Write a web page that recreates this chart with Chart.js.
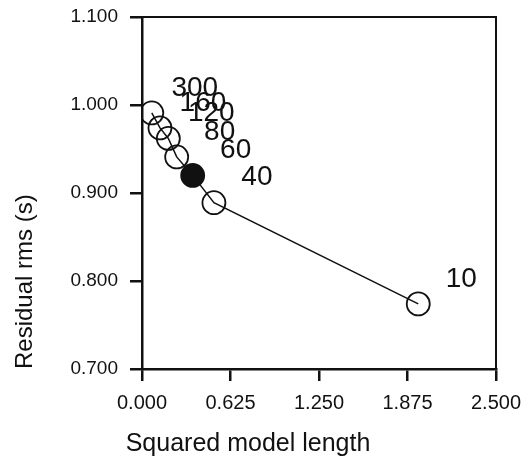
<!DOCTYPE html>
<html>
<head>
<meta charset="utf-8">
<script src="https://cdn.jsdelivr.net/npm/chart.js@4/dist/chart.umd.min.js"></script>
<style>
  html, body { margin: 0; padding: 0; background: #fff; }
  canvas { display: block; }
</style>
</head>
<body>
<canvas id="c" width="525" height="460"></canvas>
<script>
// ---- data ----
const pointLabels = ['300', '160', '120', '80', '60', '40', '10'];
const xValues = [0.069, 0.127, 0.186, 0.245, 0.358, 0.508, 1.951];
const yValues = [0.991, 0.974, 0.962, 0.941, 0.920, 0.889, 0.774];
const highlightedLabel = '60';
const xTickValues = [0.000, 0.625, 1.250, 1.875, 2.500];
const yTickValues = [0.700, 0.800, 0.900, 1.000, 1.100];
const xTitle = 'Squared model length';
const yTitle = 'Residual rms (s)';

const FONT = '"Liberation Sans", Arial, Helvetica, sans-serif';
const INK = '#111';

const points = xValues.map((x, i) => ({ x: x, y: yValues[i] }));

const frameAndLabels = {
  id: 'frameAndLabels',
  afterDraw(chart) {
    const ctx = chart.ctx;
    const a = chart.chartArea;
    ctx.save();
    ctx.strokeStyle = INK;
    ctx.lineWidth = 2;
    ctx.beginPath();
    ctx.moveTo(a.left, a.top);
    ctx.lineTo(a.right, a.top);
    ctx.lineTo(a.right, a.bottom);
    ctx.stroke();
    // point labels
    const meta = chart.getDatasetMeta(0);
    ctx.fillStyle = INK;
    ctx.font = '28px ' + FONT;
    ctx.textAlign = 'center';
    ctx.textBaseline = 'middle';
    meta.data.forEach((el, i) => {
      ctx.fillText(pointLabels[i], el.x + 43, el.y - 25);
    });
    ctx.restore();
  }
};

function zeroPad(scale) {
  scale.paddingLeft = 0;
  scale.paddingRight = 0;
  scale.paddingTop = 0;
  scale.paddingBottom = 0;
}

new Chart(document.getElementById('c'), {
  type: 'scatter',
  data: {
    datasets: [{
      data: points,
      showLine: true,
      borderColor: INK,
      borderWidth: 1.5,
      pointRadius: 11.5,
      pointHoverRadius: 11.5,
      pointBorderWidth: 1.8,
      pointBorderColor: INK,
      pointBackgroundColor: pointLabels.map(l => l === highlightedLabel ? INK : 'rgba(0,0,0,0)')
    }]
  },
  options: {
    responsive: false,
    animation: false,
    devicePixelRatio: 1,
    layout: { padding: { left: 0, top: 17, right: 29, bottom: 0 } },
    plugins: {
      legend: { display: false },
      tooltip: { enabled: false },
      title: {
        display: true,
        text: xTitle,
        position: 'bottom',
        align: 'center',
        color: INK,
        font: { family: FONT, size: 25, weight: 'normal' },
        padding: { top: 0, bottom: 1 }
      }
    },
    scales: {
      x: {
        type: 'linear',
        min: 0,
        max: 2.5,
        afterBuildTicks(scale) { scale.ticks = xTickValues.map(v => ({ value: v })); },
        afterFit(scale) { scale.height = 60; zeroPad(scale); },
        ticks: {
          color: INK,
          font: { family: FONT, size: 20 },
          padding: 10,
          maxRotation: 0,
          autoSkip: false,
          callback: v => Number(v).toFixed(3)
        },
        grid: { drawOnChartArea: false, drawTicks: true, tickLength: 12, color: INK, lineWidth: 2.5 },
        border: { display: true, color: INK, width: 2.5 }
      },
      y: {
        type: 'linear',
        min: 0.7,
        max: 1.1,
        afterBuildTicks(scale) { scale.ticks = yTickValues.map(v => ({ value: v })); },
        afterFit(scale) { scale.width = 142; zeroPad(scale); },
        ticks: {
          color: INK,
          font: { family: FONT, size: 19 },
          padding: 12,
          autoSkip: false,
          callback: v => Number(v).toFixed(3)
        },
        grid: { drawOnChartArea: false, drawTicks: true, tickLength: 12, color: INK, lineWidth: 2.5 },
        border: { display: true, color: INK, width: 2.5 },
        title: {
          display: true,
          text: yTitle,
          align: 'start',
          color: INK,
          font: { family: FONT, size: 24, weight: 'normal' },
          padding: { top: 11, bottom: 0 }
        }
      }
    }
  },
  plugins: [frameAndLabels]
});
</script>
</body>
</html>
